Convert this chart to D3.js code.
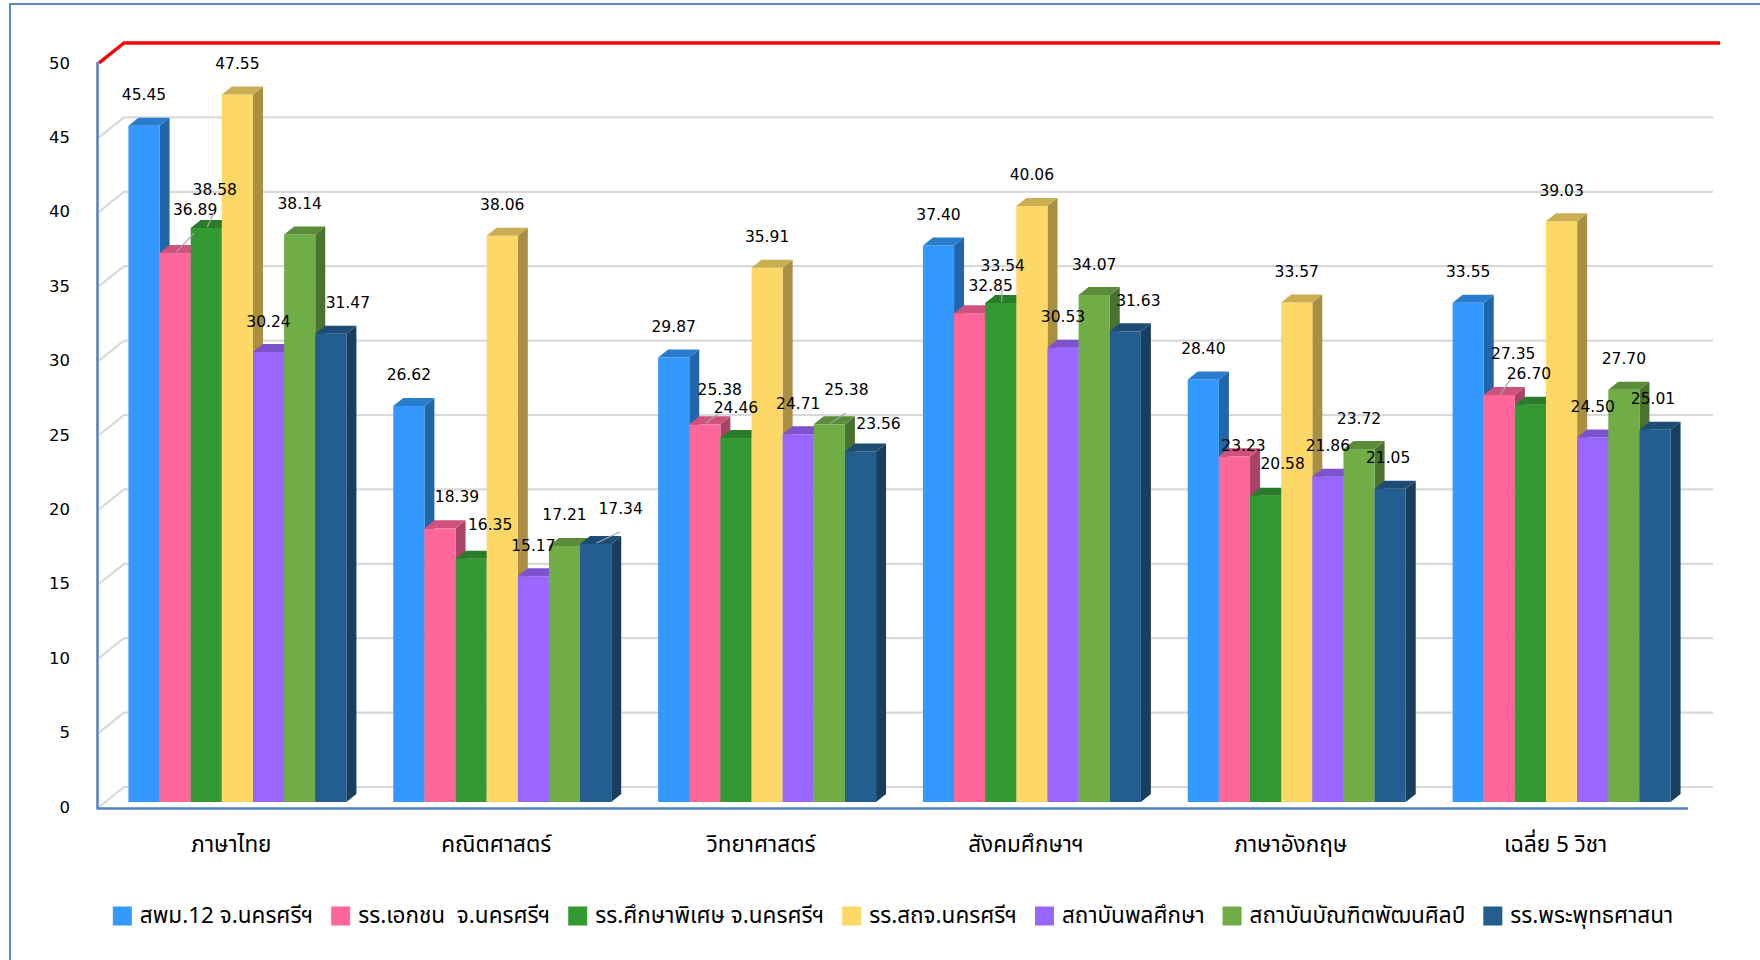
<!DOCTYPE html>
<html>
<head>
<meta charset="utf-8">
<script src="https://cdn.jsdelivr.net/npm/d3@7"></script>
<style>
  html, body { margin: 0; padding: 0; background: #ffffff; }
  svg { display: block; }
  .num { font-family: "DejaVu Sans", Verdana, sans-serif; fill: #000; }
  .thai { font-family: Tahoma, "Noto Sans Thai", "Noto Sans Thai UI", Leelawadee, "Noto Sans", sans-serif; fill: #000; white-space: pre; }
</style>
</head>
<body>
<svg id="chart" width="1760" height="960"></svg>
<script>
// ---------------- data ----------------
const categories = ["ภาษาไทย", "คณิตศาสตร์", "วิทยาศาสตร์", "สังคมศึกษาฯ", "ภาษาอังกฤษ", "เฉลี่ย 5 วิชา"];
const seriesNames = [
  "สพม.12 จ.นครศรีฯ",
  "รร.เอกชน  จ.นครศรีฯ",
  "รร.ศึกษาพิเศษ จ.นครศรีฯ",
  "รร.สถจ.นครศรีฯ",
  "สถาบันพลศึกษา",
  "สถาบันบัณฑิตพัฒนศิลป์",
  "รร.พระพุทธศาสนา"
];
const valuesSpm12    = [45.45, 26.62, 29.87, 37.40, 28.40, 33.55];
const valuesPrivate  = [36.89, 18.39, 25.38, 32.85, 23.23, 27.35];
const valuesSpecial  = [38.58, 16.35, 24.46, 33.54, 20.58, 26.70];
const valuesSorThorChor = [47.55, 38.06, 35.91, 40.06, 33.57, 39.03];
const valuesPhysEd   = [30.24, 15.17, 24.71, 30.53, 21.86, 24.50];
const valuesBundit   = [38.14, 17.21, 25.38, 34.07, 23.72, 27.70];
const valuesBuddhist = [31.47, 17.34, 23.56, 31.63, 21.05, 25.01];
const yTickValues = [0, 5, 10, 15, 20, 25, 30, 35, 40, 45, 50];

// ---------------- styling / layout ----------------
const seriesValues = [valuesSpm12, valuesPrivate, valuesSpecial, valuesSorThorChor, valuesPhysEd, valuesBundit, valuesBuddhist];
const colors = ["#3399FF", "#FF6699", "#339933", "#FDD866", "#9966FF", "#70AD47", "#245E91"];

// label placement nudges (Excel-style collision moves): key "series,category" -> [dx, dy, leaderLine]
const labelNudge = {
  "1,0": [20, -43, true], "2,0": [8.5, -38, true], "6,0": [17, -31, false],
  "1,1": [17, -31, false], "2,1": [19, -34, false], "6,1": [25, -35, true],
  "1,2": [15, -34, true], "5,2": [17, -34, true], "6,2": [18, -27, false],
  "1,3": [21, -27, false], "2,3": [2, -37, true], "6,3": [13, -30, false],
  "1,4": [9, -10, false], "2,4": [17, -32, false],
  "1,5": [14, -41, true], "2,5": [-1.5, -30.5, false], "6,4": [-2, -31, false], "6,5": [-2, -31, false]
};

const W = 1760, H = 960;
const svg = d3.select("#chart");

const plotLeft = 99, plotRight = 1688;
const WX = 25, WY = -20;   // back wall offset
const BX = 6, BY = -5;     // bar front plane offset
const DX = 10, DY = -8;    // bar depth

const y = d3.scaleLinear().domain([0, 50]).range([807, 63]);
const x0 = d3.scaleBand().domain(categories).range([plotLeft, plotRight]).paddingInner(0.177).paddingOuter(0.0885);
const x1 = d3.scaleBand().domain(d3.range(seriesNames.length)).range([0, x0.bandwidth()]);

// outer frame
svg.append("rect").attr("x", 10).attr("y", 4).attr("width", W + 40).attr("height", H + 40)
  .attr("fill", "none").attr("stroke", "#5B8AC6").attr("stroke-width", 2);

// gridlines (side wall diagonal + back wall horizontal)
const grid = svg.append("g");
yTickValues.forEach(v => {
  const yy = y(v);
  const isTop = v === 50;
  const path = d3.path();
  path.moveTo(plotLeft, yy);
  path.lineTo(plotLeft + WX, yy + WY);
  path.lineTo(isTop ? plotRight + WX + 7 : plotRight + WX, yy + WY);
  grid.append("path").attr("d", path.toString()).attr("fill", "none")
    .attr("stroke", isTop ? "#FF0000" : "#D9D9D9")
    .attr("stroke-width", isTop ? 3.5 : 2.2);
});

// bars
const barsG = svg.append("g");
categories.forEach((cat, ci) => {
  seriesValues.forEach((vals, si) => {
    const v = vals[ci];
    const c = d3.color(colors[si]);
    const xl = x0(cat) + x1(si) + BX;
    const w = x1.bandwidth();
    const yt = y(v) + BY;
    const yb = y(0) + BY;
    barsG.append("path")
      .attr("d", `M${xl + w},${yt} L${xl + w + DX},${yt + DY} L${xl + w + DX},${yb + DY} L${xl + w},${yb} Z`)
      .attr("fill", c.darker(1.15));
    barsG.append("rect").attr("x", xl).attr("y", yt).attr("width", w).attr("height", yb - yt)
      .attr("fill", colors[si]);
    barsG.append("path")
      .attr("d", `M${xl},${yt} L${xl + DX},${yt + DY} L${xl + w + DX},${yt + DY} L${xl + w},${yt} Z`)
      .attr("fill", c.darker(0.6));
  });
});

// axes lines
svg.append("line").attr("x1", plotLeft - 1.5).attr("x2", plotLeft - 1.5).attr("y1", y(50) - 1).attr("y2", y(0) + 1.5)
  .attr("stroke", "#4F81BD").attr("stroke-width", 2.5);
svg.append("line").attr("x1", plotLeft - 2.5).attr("x2", plotRight).attr("y1", y(0) + 1.5).attr("y2", y(0) + 1.5)
  .attr("stroke", "#4F81BD").attr("stroke-width", 2.5);

// y tick labels
const yAxisG = svg.append("g");
yTickValues.forEach(v => {
  yAxisG.append("text").attr("class", "num")
    .attr("x", 70).attr("y", y(v)).attr("text-anchor", "end").attr("dominant-baseline", "central")
    .attr("font-size", 16.5).text(v);
});

// category labels
const catG = svg.append("g");
categories.forEach(cat => {
  catG.append("text").attr("class", "thai")
    .attr("x", x0(cat) + x0.bandwidth() / 2).attr("y", 845)
    .attr("text-anchor", "middle").attr("dominant-baseline", "central")
    .attr("font-size", 22.5).text(cat);
});

// data labels + leader lines
const labG = svg.append("g");
categories.forEach((cat, ci) => {
  seriesValues.forEach((vals, si) => {
    const v = vals[ci];
    const cx = x0(cat) + x1(si) + BX + x1.bandwidth() / 2;
    const yt = y(v) + BY;
    const n = labelNudge[si + "," + ci] || [0, -30.5, false];
    const lx = cx + n[0], ly = yt + n[1];
    if (n[2]) {
      labG.append("line").attr("x1", cx + 1).attr("y1", yt - 1).attr("x2", lx - 1).attr("y2", ly + 23)
        .attr("stroke", "#A6A6A6").attr("stroke-width", 1.2);
    }
    labG.append("text").attr("class", "num")
      .attr("x", lx).attr("y", ly).attr("text-anchor", "middle").attr("dominant-baseline", "central")
      .attr("font-size", 15.5).text(v.toFixed(2));
  });
});

// legend
const legG = svg.append("g");
const sq = 19, gapSqText = 8, gapItem = 18, legY = 916, legCenter = 893;
const items = seriesNames.map((name, i) => {
  const g = legG.append("g");
  g.append("rect").attr("width", sq).attr("height", sq).attr("y", -sq / 2).attr("fill", colors[i]);
  const t = g.append("text").attr("class", "thai").attr("x", sq + gapSqText).attr("y", 0)
    .attr("xml:space", "preserve")
    .attr("dominant-baseline", "central").attr("font-size", 22.5).text(name);
  return { g, w: sq + gapSqText + t.node().getComputedTextLength() };
});
const totalW = d3.sum(items, d => d.w) + gapItem * (items.length - 1);
let lxPos = legCenter - totalW / 2;
items.forEach(it => {
  it.g.attr("transform", `translate(${lxPos},${legY})`);
  lxPos += it.w + gapItem;
});
</script>
</body>
</html>
